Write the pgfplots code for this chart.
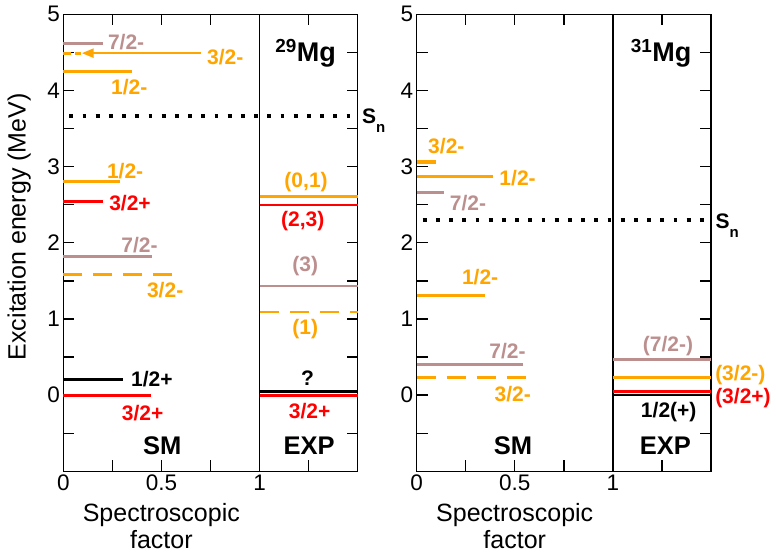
\documentclass[border=0pt]{standalone}
\usepackage{fontspec}
\setmainfont{Liberation Sans}
\usepackage{pgfplots}
\pgfplotsset{compat=1.18}
\usetikzlibrary{arrows.meta}
\definecolor{myorange}{RGB}{255,165,0}
\definecolor{myrosy}{RGB}{188,143,143}
\definecolor{myred}{RGB}{255,0,0}
\newcommand\lab{\bfseries\fontsize{21}{23}\selectfont}
\newcommand\biglab{\bfseries\fontsize{25.5}{27}\selectfont}
\tikzset{
  sm/.style={line width=3.2pt},
  ex/.style={line width=2.4pt},
  bigdash/.style={dash pattern=on 19pt off 11pt},
  sndots/.style={black, line width=3.8pt, dash pattern=on 3.8pt off 9.4pt, dash phase=-6pt},
}
\pgfplotsset{
  levelplot/.style={
    width=294.4pt, height=457pt, scale only axis,
    xmin=0, xmax=1.5, ymin=-1, ymax=5,
    xtick={0,0.25,0.5,0.75,1,1.25,1.5},
    xticklabels={0,,0.5,,1,,},
    ytick={-1,-0.5,0,0.5,1,1.5,2,2.5,3,3.5,4,4.5,5},
    yticklabels={,,0,,1,,2,,3,,4,,5},
    tick align=inside, major tick length=11pt,
    every tick/.style={black, line width=1.3pt},
    axis line style={line width=1.5pt},
    tick label style={font=\fontsize{22.5}{24}\selectfont},
    /pgf/number format/assume math mode=true,
    clip=false,
  }
}
\begin{document}
\begin{tikzpicture}
\path[use as bounding box] (0,0) rectangle (776pt,-553pt);
% ---------------- 29Mg ----------------
\begin{axis}[levelplot, at={(63.3pt,-471.3pt)}, anchor=south west]
\addplot[black, line width=1.2pt] coordinates {(1,-1) (1,5)};
% S_n
\addplot[sndots] coordinates {(0,3.66) (1.5,3.66)};
% SM levels
\addplot[myrosy, sm] coordinates {(0,4.62) (0.20,4.62)};
\addplot[myorange, sm, dash pattern=on 8pt off 4pt] coordinates {(0,4.49) (0.09,4.49)};
\addplot[myorange, line width=2.4pt, -{Triangle[length=12pt,width=9pt]}] coordinates {(0.70,4.49) (0.094,4.49)};
\addplot[myorange, sm] coordinates {(0,4.25) (0.35,4.25)};
\addplot[myorange, sm] coordinates {(0,2.80) (0.29,2.80)};
\addplot[myred, sm] coordinates {(0,2.54) (0.20,2.54)};
\addplot[myrosy, sm] coordinates {(0,1.82) (0.45,1.82)};
\addplot[myorange, sm, bigdash] coordinates {(0,1.58) (0.575,1.58)};
\addplot[black, sm] coordinates {(0,0.206) (0.306,0.206)};
\addplot[myred, sm] coordinates {(0,0) (0.446,0)};
% EXP levels
\addplot[myorange, ex] coordinates {(1,2.61) (1.5,2.61)};
\addplot[myred, ex] coordinates {(1,2.50) (1.5,2.50)};
\addplot[myrosy, ex] coordinates {(1,1.43) (1.5,1.43)};
\addplot[myorange, ex, bigdash] coordinates {(1,1.09) (1.5,1.09)};
\addplot[black, ex] coordinates {(1,0.05) (1.5,0.05)};
\addplot[myred, line width=3.2pt] coordinates {(1,0) (1.5,0)};
% labels SM
\node[myrosy] at (axis cs:0.32,4.64) {\lab 7/2-};
\node[myorange, anchor=west] at (axis cs:0.715,4.44) {\lab 3/2-};
\node[myorange] at (axis cs:0.336,4.04) {\lab 1/2-};
\node[myorange] at (axis cs:0.315,2.94) {\lab 1/2-};
\node[myred] at (axis cs:0.34,2.52) {\lab 3/2+};
\node[myrosy] at (axis cs:0.388,1.97) {\lab 7/2-};
\node[myorange] at (axis cs:0.519,1.385) {\lab 3/2-};
\node[black] at (axis cs:0.451,0.206) {\lab 1/2+};
\node[myred] at (axis cs:0.404,-0.23) {\lab 3/2+};
\node at (axis cs:0.504,-0.668) {\biglab SM};
% labels EXP
\node[myorange] at (axis cs:1.237,2.80) {\lab (0,1)};
\node[myred] at (axis cs:1.22,2.28) {\lab (2,3)};
\node[myrosy] at (axis cs:1.233,1.69) {\lab (3)};
\node[myorange] at (axis cs:1.233,0.87) {\lab (1)};
\node[black] at (axis cs:1.245,0.22) {\lab ?};
\node[myred] at (axis cs:1.255,-0.21) {\lab 3/2+};
\node at (axis cs:1.253,-0.668) {\biglab EXP};
\node[anchor=base west, inner sep=0pt] at (axis cs:1.08,4.38) {\bfseries\fontsize{27}{29}\selectfont\textsuperscript{29}Mg};
\node[anchor=base west, inner sep=0pt] at (axis cs:1.522,3.57) {\bfseries\fontsize{21}{22}\selectfont S\raisebox{-9pt}{\fontsize{15}{15}\selectfont n}};
% axis labels
\node[rotate=90, font=\fontsize{25}{27}\selectfont] at (rel axis cs:-0.150,0.535) {Excitation energy (MeV)};
\node[anchor=north, align=center, font=\fontsize{25}{27}\selectfont] at (rel axis cs:0.333,-0.062) {Spectroscopic\\factor};
\end{axis}
% ---------------- 31Mg ----------------
\begin{axis}[levelplot, at={(416.7pt,-471.3pt)}, anchor=south west]
\addplot[black, line width=1.2pt] coordinates {(1,-1) (1,5)};
\addplot[sndots] coordinates {(0,2.30) (1.5,2.30)};
% SM levels
\addplot[myorange, sm] coordinates {(0,3.06) (0.097,3.06)};
\addplot[myorange, sm] coordinates {(0,2.87) (0.39,2.87)};
\addplot[myrosy, sm] coordinates {(0,2.66) (0.14,2.66)};
\addplot[myorange, sm] coordinates {(0,1.31) (0.35,1.31)};
\addplot[myrosy, sm] coordinates {(0,0.40) (0.54,0.40)};
\addplot[myorange, sm, bigdash] coordinates {(0,0.23) (0.578,0.23)};
% EXP levels
\addplot[myrosy, ex] coordinates {(1,0.47) (1.5,0.47)};
\addplot[myorange, ex] coordinates {(1,0.23) (1.5,0.23)};
\addplot[myred, line width=3.2pt] coordinates {(1,0.05) (1.5,0.05)};
\addplot[black, ex] coordinates {(1,0.0) (1.5,0.0)};
% labels SM
\node[myorange] at (axis cs:0.151,3.275) {\lab 3/2-};
\node[myorange] at (axis cs:0.514,2.85) {\lab 1/2-};
\node[myrosy] at (axis cs:0.261,2.52) {\lab 7/2-};
\node[myorange] at (axis cs:0.323,1.55) {\lab 1/2-};
\node[myrosy] at (axis cs:0.463,0.577) {\lab 7/2-};
\node[myorange] at (axis cs:0.489,0.01) {\lab 3/2-};
\node at (axis cs:0.49,-0.668) {\biglab SM};
% labels EXP
\node[myrosy] at (axis cs:1.28,0.64) {\lab (7/2-)};
\node[myorange, anchor=west, inner sep=1pt] at (axis cs:1.515,0.27) {\lab (3/2-)};
\node[myred, anchor=west, inner sep=1pt] at (axis cs:1.515,-0.035) {\lab (3/2+)};
\node[black] at (axis cs:1.284,-0.22) {\lab 1/2(+)};
\node at (axis cs:1.267,-0.668) {\biglab EXP};
\node[anchor=base west, inner sep=0pt] at (axis cs:1.09,4.38) {\bfseries\fontsize{27}{29}\selectfont\textsuperscript{31}Mg};
\node[anchor=base west, inner sep=0pt] at (axis cs:1.522,2.19) {\bfseries\fontsize{21}{22}\selectfont S\raisebox{-9pt}{\fontsize{15}{15}\selectfont n}};
\node[anchor=north, align=center, font=\fontsize{25}{27}\selectfont] at (rel axis cs:0.333,-0.062) {Spectroscopic\\factor};
\end{axis}
\end{tikzpicture}
\end{document}
